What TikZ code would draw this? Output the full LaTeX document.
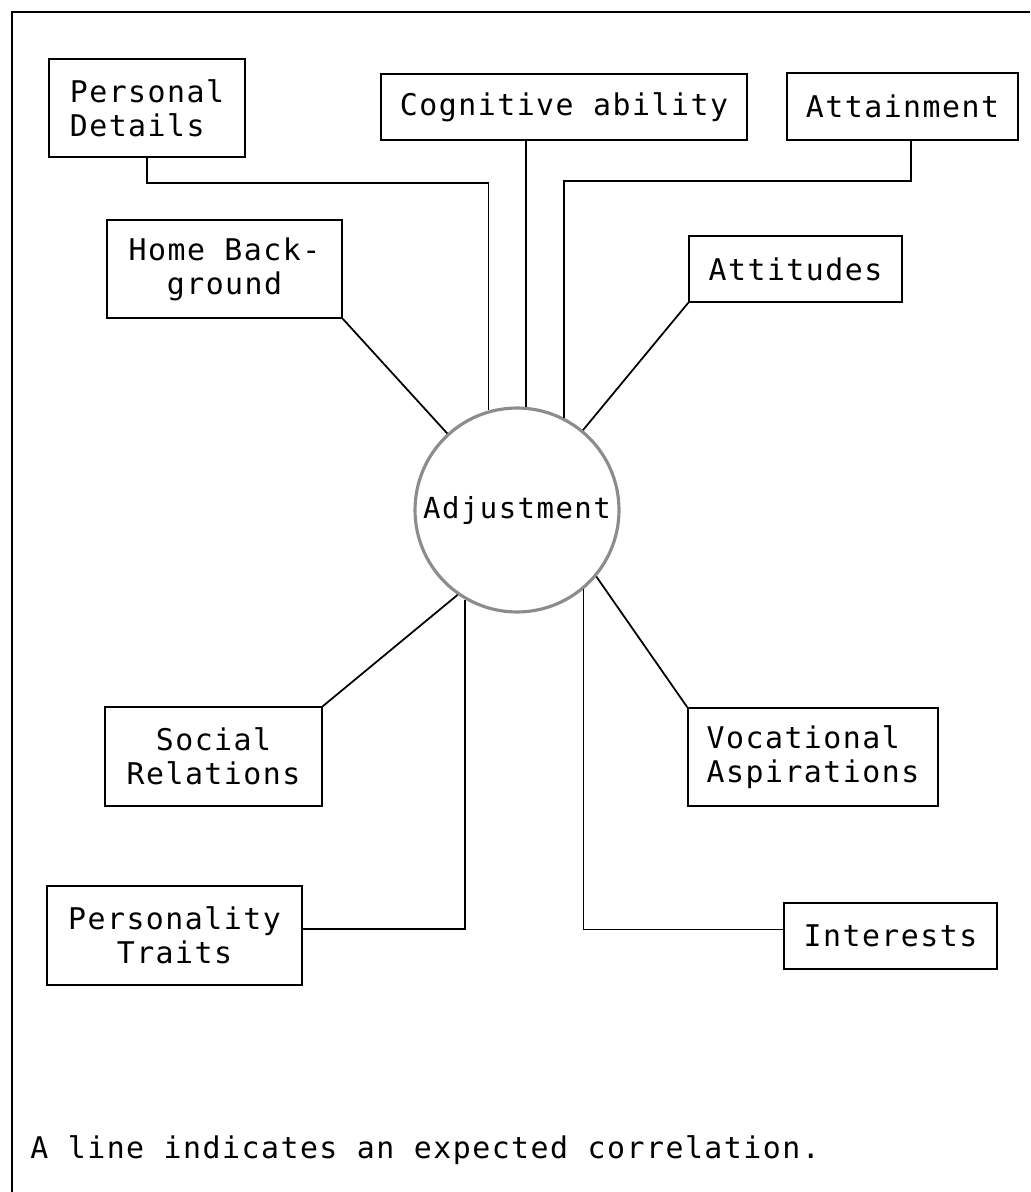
\documentclass[tikz,border=0pt]{standalone}
\usepackage{fontspec}
\setmainfont{DejaVu Sans Mono}[LetterSpace=5]
\usepackage{tikz}
\tikzstyle{factor} = [rectangle, draw=black, line width=0.85pt, inner sep=0pt, align=center, font=\fontsize{17}{19.5}\selectfont]
\tikzstyle{hub} = [circle, draw=black!45, line width=1.8pt, inner sep=0pt, minimum size=4.08cm, font=\fontsize{16.5}{19}\selectfont]
\tikzstyle{link} = [line width=1pt]
\tikzstyle{frame} = [line width=0.8pt]

\begin{document}
\begin{tikzpicture}[x=0.02cm, y=-0.02cm]
	\useasboundingbox (0,0) rectangle (1030,1192);
	
	% Outer frame (left and top edge of the page)
	\draw [frame] (1030,12) -- (12,12) -- (12,1192);
	
	% Central variable
	\node (adj) [hub] at (517,510) {Adjustment};
	
	% Factors above
	\node (pd) [factor, minimum width=3.92cm, minimum height=1.96cm, align=left] at (147,108) {Personal\\Details};
	\node (cog) [factor, minimum width=7.32cm, minimum height=1.32cm] at (564,107) {Cognitive ability};
	\node (att) [factor, minimum width=4.62cm, minimum height=1.34cm] at (902.5,106.5) {Attainment};
	\node (hb) [factor, minimum width=4.7cm, minimum height=1.96cm] at (224.5,269) {Home Back-\\ground};
	\node (atd) [factor, minimum width=4.26cm, minimum height=1.32cm] at (795.5,269) {Attitudes};
	
	% Factors below
	\node (soc) [factor, minimum width=4.34cm, minimum height=1.98cm] at (213.5,756.5) {Social\\Relations};
	\node (voc) [factor, minimum width=5cm, minimum height=1.96cm, align=left] at (813,757) {Vocational\\Aspirations};
	\node (per) [factor, minimum width=5.1cm, minimum height=1.98cm] at (174.5,935.5) {Personality\\Traits};
	\node (int) [factor, minimum width=4.26cm, minimum height=1.32cm] at (890.5,936) {Interests};
	
	% Top links
	\draw [link] (pd.south) -- ++(0,25) -| (adj.106.5);
	\draw [link] (cog.south -| adj.85.5) -- (adj.85.5);
	\draw [link] ([xshift=0.17cm]att.south) -- ++(0,40) -| (adj.63.8);
	
	% Diagonal links
	\draw [link] (hb.south east) -- (adj);
	\draw [link] (atd.south west) -- (adj);
	\draw [link] (soc.north east) -- (adj.235);
	\draw [link] (voc.north west) -- (adj.320);
	
	% Bottom links
	\draw [link] ([yshift=0.13cm]per.east) -| (adj.240.7);
	\draw [link] ([yshift=0.13cm]int.west) -| (adj.310.2);
	
	% Note
	\node (note) [anchor=base west, inner sep=0pt, font=\fontsize{17}{19.5}\selectfont] at (30,1158) {A line indicates an expected correlation.};
	
\end{tikzpicture}
\end{document}
